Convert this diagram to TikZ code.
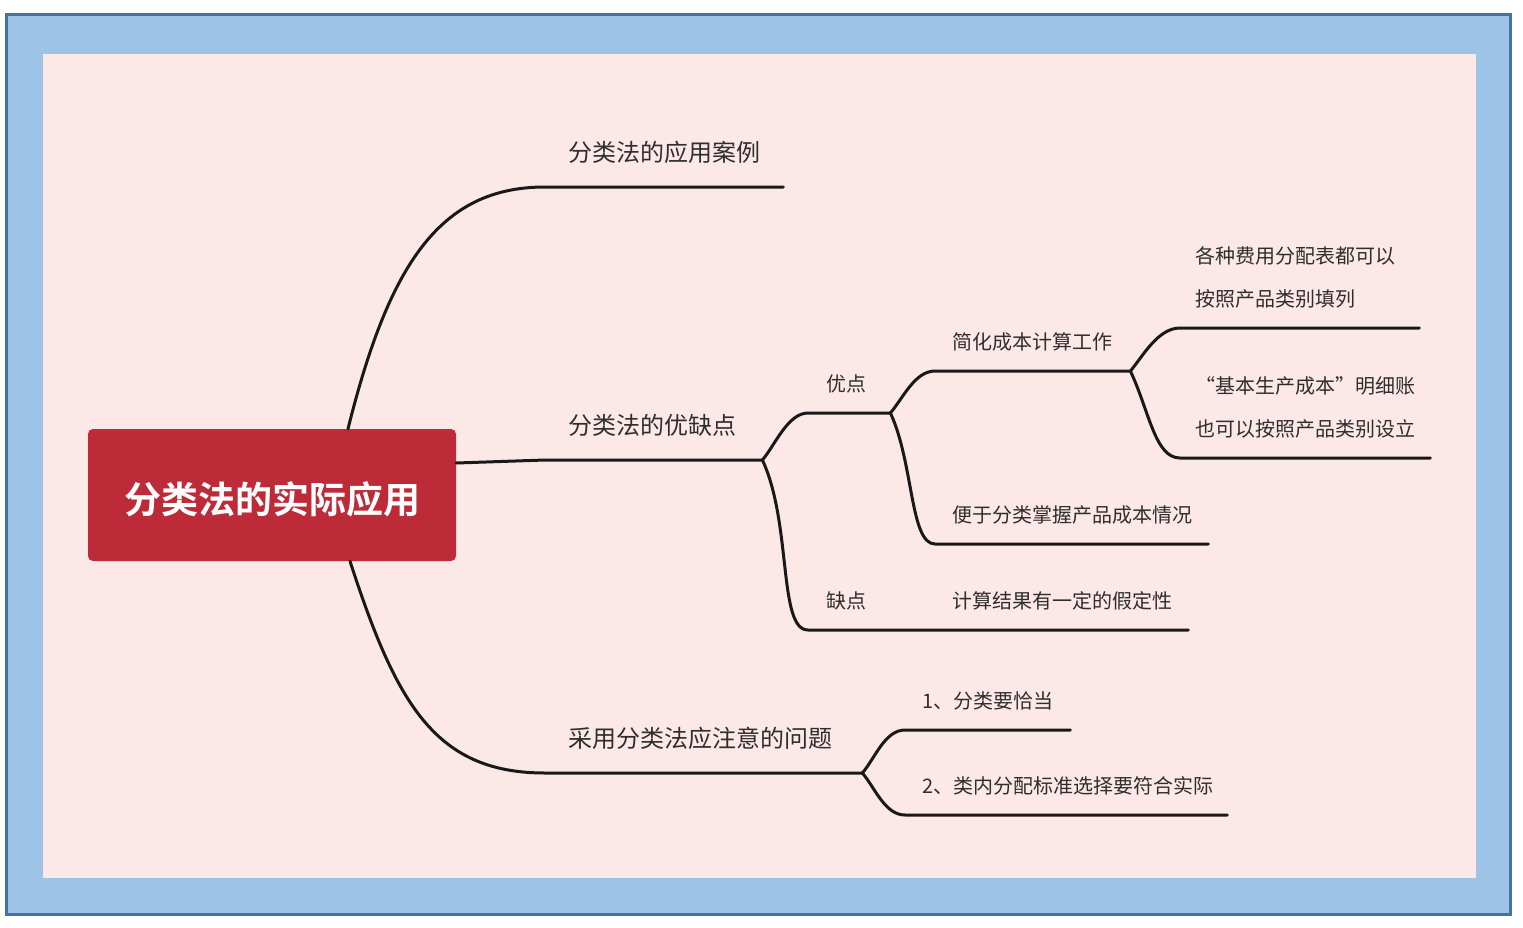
\documentclass[tikz,border=0pt]{standalone}
\usepackage{fontspec}
\setmainfont{Noto Sans CJK SC}[BoldFont={Noto Sans CJK SC Bold}]
\definecolor{framedark}{HTML}{46729E}
\definecolor{framelight}{HTML}{9DC3E6}
\definecolor{paper}{HTML}{FDE8E8}
\definecolor{rootred}{HTML}{BE2B38}
\definecolor{inkgray}{HTML}{2E2E2E}
\tikzset{
  root/.style={fill=rootred, rounded corners=5pt, text=white, font=\fontsize{37}{40}\selectfont\bfseries, text height=41pt, text depth=3.6pt, minimum width=368pt, minimum height=132pt},
  topic/.style={anchor=south west, align=left, text=inkgray, inner ysep=20pt, inner xsep=17pt, font=\fontsize{20}{43}\selectfont},
  maintopic/.style={topic, inner ysep=23pt, inner xsep=23pt, font=\fontsize{24}{30}\selectfont},
  link/.style={draw=black!90, line width=3pt, line cap=round},
}
\begin{document}
\begin{tikzpicture}[x=1pt,y=-1pt]
\useasboundingbox (0,0) rectangle (1523,927);
% frame
\filldraw[draw=framedark, fill=framelight, line width=2.8pt] (6.5,14.7) rectangle (1510.3,914.5);
\fill[paper] (43,54) rectangle (1476,878);

% central topic
\node[root] (root) at (272,495) {分类法的实际应用};

% main branches
\node[maintopic, minimum width=238pt, text width=192pt] (m1) at (545,187) {分类法的应用案例};
\node[maintopic, minimum width=217pt, text width=171pt] (m2) at (545,460) {分类法的优缺点};
\node[maintopic, minimum width=317pt, text width=271pt] (m3) at (545,773) {采用分类法应注意的问题};

% pros and cons
\node[topic, inner xsep=18pt, minimum width=82pt, text width=46pt] (s1) at (808,413) {优点};
\node[topic, inner xsep=18pt, minimum width=127pt, text width=91pt] (s2) at (808,630) {缺点};
\node[topic, minimum width=195pt, text width=161pt] (t1) at (935,371) {简化成本计算工作};
\node[topic, minimum width=273pt, text width=239pt] (t2) at (935,544) {便于分类掌握产品成本情况};
\node[topic, minimum width=253pt, text width=219pt] (t3) at (935,630) {计算结果有一定的假定性};
\node[topic, inner xsep=15pt, minimum width=239pt, text width=209pt] (l1) at (1180,328) {各种费用分配表都可以\\按照产品类别填列};
\node[topic, inner xsep=15pt, minimum width=250pt, text width=220pt] (l2) at (1180,458) {“基本生产成本”明细账\\也可以按照产品类别设立};

% points to note
\node[topic, minimum width=165pt, text width=131pt] (u1) at (905,730) {1、分类要恰当};
\node[topic, minimum width=322pt, text width=288pt] (u2) at (905,815) {2、类内分配标准选择要符合实际};

% connectors
\draw[link] ([xshift=76pt]root.north) to[out=76,in=180,out distance=170pt,in distance=105pt] (m1.south west) -- (m1.south east);
\draw[link] ([yshift=32pt]root.east) -- (m2.south west) -- (m2.south east);
\draw[link] ([xshift=78pt]root.south) to[out=-72,in=180,out distance=150pt,in distance=110pt] (m3.south west) -- (m3.south east);

\draw[link] (m2.south east) to[out=50,in=180,out distance=20pt,in distance=20pt] (s1.south west) -- (s1.south east);
\draw[link] (m2.south east) to[out=-65,in=180,out distance=70pt,in distance=30pt] (s2.south west) -- (s2.south east) -- (t3.south west) -- (t3.south east);
\draw[link] (s1.south east) to[out=50,in=180,out distance=20pt,in distance=20pt] (t1.south west) -- (t1.south east);
\draw[link] (s1.south east) to[out=-65,in=180,out distance=55pt,in distance=25pt] (t2.south west) -- (t2.south east);
\draw[link] (t1.south east) to[out=50,in=180,out distance=20pt,in distance=22pt] (l1.south west) -- (l1.south east);
\draw[link] (t1.south east) to[out=-65,in=180,out distance=45pt,in distance=25pt] (l2.south west) -- (l2.south east);
\draw[link] (m3.south east) to[out=50,in=180,out distance=20pt,in distance=20pt] (u1.south west) -- (u1.south east);
\draw[link] (m3.south east) to[out=-50,in=180,out distance=20pt,in distance=20pt] (u2.south west) -- (u2.south east);
\end{tikzpicture}
\end{document}
